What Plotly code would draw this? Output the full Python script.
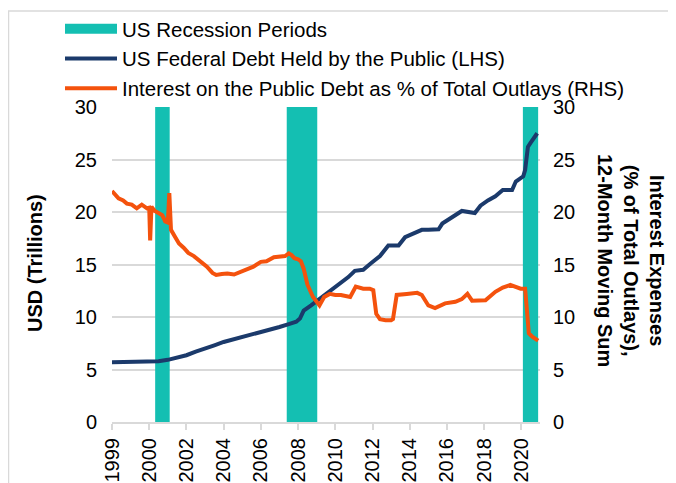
import plotly.graph_objects as go

# recession periods (start, end) in fractional years
rec_start = [2000.32, 2007.39, 2020.08]
rec_end = [2001.10, 2009.03, 2020.90]

# US federal debt held by the public, USD trillions
debt_x = [1998.0, 1998.5, 1999.0, 1999.5, 2000.0, 2000.5, 2001.0, 2001.5, 2002.0, 2002.5,
          2003.0, 2003.5, 2004.0, 2004.5, 2005.0, 2005.5, 2006.0, 2006.5, 2007.0, 2007.5,
          2007.9, 2008.1, 2008.3, 2008.7, 2009.0, 2009.4, 2009.8, 2010.2, 2010.7, 2011.05,
          2011.5, 2011.9, 2012.4, 2012.85, 2013.4, 2013.75, 2014.2, 2014.65, 2015.0, 2015.55,
          2015.75, 2016.3, 2016.8, 2017.5, 2017.8, 2018.2, 2018.6, 2019.0, 2019.5, 2019.7,
          2020.1, 2020.2, 2020.35, 2020.5, 2020.85]
debt_y = [5.70, 5.72, 5.80, 5.76, 5.77, 5.78, 5.92, 6.12, 6.36, 6.70,
          7.05, 7.30, 7.62, 7.85, 8.07, 8.32, 8.58, 8.82, 9.05, 9.32,
          9.55, 9.85, 10.6, 11.1, 11.5, 12.1, 12.6, 13.2, 13.8, 14.4,
          14.5, 15.1, 15.8, 16.8, 16.8, 17.6, 17.9, 18.3, 18.3, 18.35,
          18.9, 19.5, 20.1, 19.9, 20.6, 21.1, 21.5, 22.1, 22.1, 22.9,
          23.4, 24.0, 26.2, 26.6, 27.5]

# interest on the public debt, % of total outlays (12m moving sum)
int_x = [1998.0, 1998.1, 1998.35, 1998.6, 1998.8, 1999.06, 1999.33, 1999.6, 1999.88, 2000.0,
         2000.05, 2000.12, 2000.3, 2000.5, 2000.7, 2000.86, 2001.0, 2001.08, 2001.17, 2001.4,
         2001.6, 2001.85, 2002.1, 2002.4, 2002.7, 2003.1, 2003.4, 2003.6, 2003.9, 2004.2,
         2004.56, 2004.9, 2005.3, 2005.6, 2006.0, 2006.3, 2006.7, 2007.08, 2007.3, 2007.5,
         2007.65, 2007.8, 2008.0, 2008.15, 2008.3, 2008.5, 2008.8, 2009.15, 2009.4, 2009.7,
         2010.0, 2010.3, 2010.8, 2011.1, 2011.5, 2011.85, 2012.04, 2012.2, 2012.4, 2012.7,
         2013.0, 2013.1, 2013.3, 2013.84, 2014.4, 2014.65, 2015.0, 2015.36, 2015.9, 2016.45,
         2016.8, 2017.1, 2017.35, 2018.07, 2018.6, 2019.0, 2019.4, 2019.96, 2020.2, 2020.4,
         2020.6, 2020.9]
int_y = [22.0, 21.8, 21.3, 21.1, 20.8, 20.7, 20.35, 20.7, 20.35, 20.4,
         17.3, 20.5, 20.1, 19.9, 19.7, 19.1, 19.0, 21.8, 18.3, 17.6,
         17.0, 16.6, 16.1, 15.8, 15.4, 14.8, 14.2, 14.0, 14.1, 14.15,
         14.05, 14.3, 14.6, 14.8, 15.25, 15.3, 15.7, 15.75, 15.8, 16.05,
         15.9, 15.6, 15.5, 15.3, 14.6, 13.1, 11.9, 11.1, 11.9, 12.2,
         12.1, 12.1, 11.9, 12.9, 12.7, 12.7, 12.55, 10.3, 9.8, 9.7,
         9.7, 9.8, 12.1, 12.2, 12.3, 12.1, 11.1, 10.85, 11.3, 11.45,
         11.7, 12.2, 11.55, 11.6, 12.4, 12.8, 13.05, 12.7, 12.7, 8.45,
         8.1, 7.75]

tick_vals = [1998, 2000, 2002, 2004, 2006, 2008, 2010, 2012, 2014, 2016, 2018, 2020]
tick_text = ["1999", "2000", "2002", "2004", "2006", "2008", "2010", "2012", "2014", "2016", "2018", "2020"]

TEAL = "#14BFB2"
NAVY = "#1B3A6B"
ORANGE = "#F4520D"
GRID = "#D9D9D9"
FONT = "Liberation Sans, Arial, sans-serif"

# recession bands as filled rectangles
band_x, band_y = [], []
for s, e in zip(rec_start, rec_end):
    band_x += [s, s, e, e, s, None]
    band_y += [0, 30, 30, 0, 0, None]

fig = go.Figure()
fig.add_trace(go.Scatter(x=band_x, y=band_y, mode='lines', fill='toself', fillcolor=TEAL,
                         line=dict(width=0, color=TEAL), showlegend=False, hoverinfo='skip'))
# legend entry for the bands
fig.add_trace(go.Scatter(x=[None], y=[None], mode='lines', name='US Recession Periods',
                         line=dict(color=TEAL, width=10)))
fig.add_trace(go.Scatter(x=debt_x, y=debt_y, mode='lines', name='US Federal Debt Held by the Public (LHS)',
                         line=dict(color=NAVY, width=4)))
fig.add_trace(go.Scatter(x=int_x, y=int_y, mode='lines', yaxis='y2',
                         name='Interest on the Public Debt as % of Total Outlays (RHS)',
                         line=dict(color=ORANGE, width=4)))

# page body has an 8px margin, so the figure is 8px smaller than the window
fig.update_layout(
    width=668, height=475,
    margin=dict(l=104, r=136, t=99, b=61, autoexpand=False),
    paper_bgcolor='white', plot_bgcolor='white',
    font=dict(family=FONT, size=20, color='#000000'),
    showlegend=True,
    legend=dict(x=(60 - 112) / 428, xanchor='left', y=(422 - 9) / 315, yanchor='top',
                itemwidth=52, bgcolor='rgba(0,0,0,0)', font=dict(size=20.5),
                tracegroupgap=0),
    xaxis=dict(range=[1998, 2021], tickvals=tick_vals, ticktext=tick_text, tickangle=-90,
               showgrid=False, showline=True, linecolor=GRID, linewidth=2,
               ticks='outside', ticklen=6, tickwidth=2, tickcolor=GRID, zeroline=False),
    yaxis=dict(range=[0, 30], dtick=5, showgrid=True, gridcolor=GRID, gridwidth=2,
               zeroline=False, showline=False, ticks='', ticklabelstandoff=14),
    yaxis2=dict(range=[0, 30], dtick=5, overlaying='y', side='right', showgrid=False,
                zeroline=False, showline=False, ticks='', ticklabelstandoff=12),
    shapes=[dict(type='rect', xref='paper', yref='paper', x0=(8.5 - 112) / 428, x1=1.4,
                 y0=-0.3, y1=(422 - 11) / 315, line=dict(color=GRID, width=1.5), layer='below')],
    annotations=[
        dict(text='<b>USD (Trillions)</b>', xref='paper', yref='paper', x=(35 - 112) / 428,
             y=(422 - 263) / 315, xanchor='center', yanchor='middle', textangle=-90,
             showarrow=False, font=dict(size=20)),
        dict(text='<b>Interest Expenses<br>(% of Total Outlays),<br>12-Month Moving Sum</b>',
             xref='paper', yref='paper', x=(631 - 112) / 428, y=(422 - 260) / 315,
             xanchor='center', yanchor='middle', textangle=90, showarrow=False,
             font=dict(size=20), align='center'),
    ],
)

fig.write_html("out.html")
